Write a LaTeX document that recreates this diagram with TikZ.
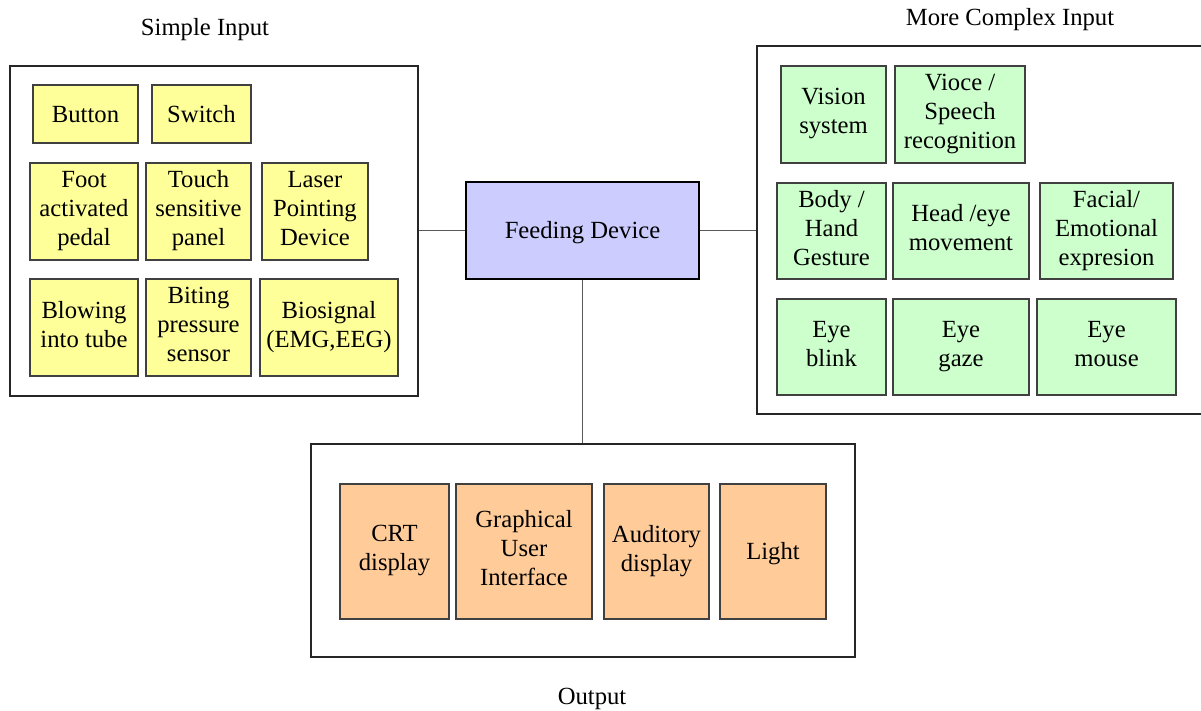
\documentclass[tikz,border=0pt]{standalone}
\usepackage{fontspec}
\setmainfont{Liberation Serif}
\definecolor{yel}{HTML}{FFFF99}
\definecolor{grn}{HTML}{CCFFCC}
\definecolor{org}{HTML}{FFCC99}
\definecolor{blu}{HTML}{CCCCFF}
\definecolor{edge}{HTML}{404040}
\newcommand\bx[7]{\node[#2, minimum width={(#5-#3)*0.75pt}, minimum height={(#6-#4)*0.75pt}] (#1) at ({(#3+#5)/2},{(#4+#6)/2}) {#7};}
\newcommand\topstrut{\rule{0pt}{16.8pt}}
\newcommand\mltopstrut{\rule{0pt}{20pt}}
\newcommand\botstrut{\rule[-4.8pt]{0pt}{4.8pt}}
\tikzset{
  base/.style={draw=edge, line width=0.8pt, inner sep=0pt, align=center, font=\fontsize{18.5}{21.75}\selectfont,
    execute at begin node=\topstrut, execute at end node=\botstrut},
  ml/.style={execute at begin node=\mltopstrut},
  ybox/.style={base, fill=yel},
  gbox/.style={base, fill=grn},
  obox/.style={base, fill=org},
  fbox/.style={base, fill=blu, draw=black},
  outer/.style={draw=black!85, line width=1pt, inner sep=0pt},
  conn/.style={draw=black!65, line width=1.1pt},
  title/.style={inner sep=0pt, font=\fontsize{18.5}{21.75}\selectfont}
}
\begin{document}
\begin{tikzpicture}[x=0.75pt, y=-0.75pt]
\useasboundingbox (0,0) rectangle (1201,710);
% outer boxes
\bx{left}{outer}{10}{66}{418}{396}{}
\bx{right}{outer}{757}{46}{1215}{414}{}
\bx{out}{outer}{311}{444}{855}{657}{}
% titles
\node[title] (t1) at (205,30) {Simple Input};
\node[title] (t2) at (1010,20) {More Complex Input};
\node[title] (t3) at (592,699) {Output};
% central
\bx{feed}{fbox}{466}{182}{699}{279}{Feeding Device}
% simple input
\bx{button}{ybox}{33}{85}{138}{143}{Button}
\bx{switch}{ybox}{152}{85}{251}{143}{Switch}
\bx{foot}{ybox,ml}{30}{163}{138}{260}{Foot\\activated\\pedal}
\bx{touch}{ybox,ml}{146}{163}{251}{260}{Touch\\sensitive\\panel}
\bx{laser}{ybox,ml}{262}{163}{368}{260}{Laser\\Pointing\\Device}
\bx{blow}{ybox,ml}{30}{279}{138}{376}{Blowing\\into tube}
\bx{bite}{ybox,ml}{146}{279}{251}{376}{Biting\\pressure\\sensor}
\bx{bio}{ybox,ml}{260}{279}{398}{376}{Biosignal\\(EMG,EEG)}
% complex input
\bx{vision}{gbox,ml}{781}{66}{886}{163}{Vision\\system}
\bx{voice}{gbox,ml}{895}{66}{1025}{163}{Vioce /\\Speech\\recognition}
\bx{body}{gbox,ml}{777}{183}{886}{279}{Body /\\Hand\\Gesture}
\bx{head}{gbox,ml}{893}{183}{1029}{279}{Head /eye\\movement}
\bx{facial}{gbox,ml}{1040}{183}{1173}{279}{Facial/\\Emotional\\expresion}
\bx{blink}{gbox,ml}{777}{299}{886}{395}{Eye\\blink}
\bx{gaze}{gbox,ml}{893}{299}{1029}{395}{Eye\\gaze}
\bx{mouse}{gbox,ml}{1037}{299}{1176}{395}{Eye\\mouse}
% output
\bx{crt}{obox,ml}{340}{484}{449}{619}{CRT\\display}
\bx{gui}{obox,ml}{456}{484}{592}{619}{Graphical\\User\\Interface}
\bx{aud}{obox,ml}{604}{484}{709}{619}{Auditory\\display}
\bx{light}{obox}{720}{484}{826}{619}{Light}
% connectors
\draw[conn] (feed.west) -- (feed.west -| left.east);
\draw[conn] (feed.east) -- (feed.east -| right.west);
\draw[conn] (feed.south) -- (feed.south |- out.north);
\end{tikzpicture}
\end{document}
